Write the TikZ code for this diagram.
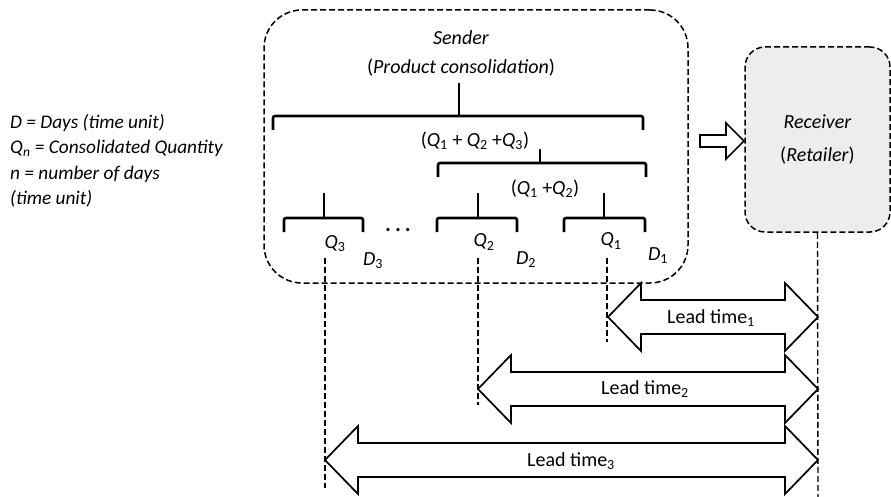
\documentclass[tikz,border=0pt]{standalone}
\usepackage{fontspec}
\setmainfont{Carlito}
\usetikzlibrary{positioning}

\newcommand\Qs[1]{\textit{Q}\textsubscript{#1}}
\newcommand\Ds[1]{\textit{D}\textsubscript{#1}}

\tikzset{
  box/.style={draw, dash pattern=on 6pt off 3pt, line width=1.5pt},
  hollow/.style={draw, line width=1.7pt, fill=white, line join=miter},
  curly/.style={line width=2.6pt, rounded corners=2pt},
  guide/.style={dash pattern=on 6pt off 3pt, line width=1.4pt},
  lbl/.style={font=\fontsize{20}{24}\selectfont, inner sep=0pt},
}

% brace: x left, x right, x tip, y bar, y tip
\newcommand\qbrace[5]{%
  \draw[curly] (#1,#4+14) -- (#1,#4) -- (#2,#4) -- (#2,#4+14);
  \draw[curly] (#3,#4) -- (#3,#5);}
% lead time arrow: x left, x right, y centre
\newcommand\leadarrow[3]{%
  \draw[hollow] (#1,#3) -- ++(33,-34) -- ++(0,17) -- (#2-33,#3-17) -- ++(0,-17)
    -- (#2,#3) -- ++(-33,34) -- ++(0,-17) -- (#1+33,#3+17) -- ++(0,17) -- cycle;}

\begin{document}
\begin{tikzpicture}[x=1pt, y=-1pt, line join=round]
  \useasboundingbox (0,0) rectangle (891,497);

  % legend
  \node[lbl, anchor=north west, align=left, font=\fontsize{19.3}{25.5}\selectfont\itshape] (legend) at (10,114)
    {D = Days (time unit)\\ Q\textsubscript{n} = Consolidated Quantity\\ n = number of days\\ (time unit)};

  % sender and receiver
  \node[box, rounded corners=38pt, minimum width=424pt, minimum height=273pt] (senderbox) at (476,146.5) {};
  \node[lbl] (sender) at (461,38) {\textit{Sender}};
  \node[lbl] (product) at (461,68) {(\textit{Product consolidation})};
  \node[box, rounded corners=20pt, fill=black!7, minimum width=145pt, minimum height=185pt,
        align=center, font=\fontsize{20}{33}\selectfont] (receiver) at (817.5,139.5)
    {\textit{Receiver}\\ (\textit{Retailer})};

  % hollow arrow to receiver
  \draw[hollow] (700,135) -- (726,135) -- (726,123) -- (744,141) -- (726,159) -- (726,147) -- (700,147) -- cycle;

  % braces
  \qbrace{273}{643}{459}{116}{83}
  \qbrace{438}{646}{540}{163}{149}
  \qbrace{284}{363}{324}{218}{193}
  \qbrace{437}{517}{478}{218}{193}
  \qbrace{564}{645}{604}{218}{193}

  \node[lbl] (qsum3) at (475,141) {(\Qs{1} + \Qs{2} +\Qs{3})};
  \node[lbl] (qsum2) at (545,189) {(\Qs{1} +\Qs{2})};
  \node[lbl, font=\fontsize{22}{22}\selectfont\bfseries] (dots) at (398,230) {.\hspace{4pt}.\hspace{4pt}.};

  \node[lbl] (q3) at (335,244) {\Qs{3}};
  \node[lbl] (d3) at (373,261) {\Ds{3}};
  \node[lbl] (q2) at (484,242) {\Qs{2}};
  \node[lbl] (d2) at (526,260) {\Ds{2}};
  \node[lbl] (q1) at (611,241) {\Qs{1}};
  \node[lbl] (d1) at (658,256) {\Ds{1}};

  % time guides
  \coordinate (t3) at (325,258);  \coordinate (b3) at (325,488);
  \coordinate (t2) at (478,258);  \coordinate (b2) at (478,405);
  \coordinate (t1) at (607,258);  \coordinate (b1) at (607,342);
  \coordinate (br) at (818,497);
  \draw[guide] (t3) -- (b3);
  \draw[guide] (t2) -- (b2);
  \draw[guide] (t1) -- (b1);
  \draw[guide] (receiver.south) -- (br);

  % lead times
  \leadarrow{608}{818}{317}
  \leadarrow{478}{818}{389}
  \leadarrow{325}{818}{460}
  \node[lbl] (lead1) at (711,318) {Lead time\textsubscript{1}};
  \node[lbl] (lead2) at (645,389) {Lead time\textsubscript{2}};
  \node[lbl] (lead3) at (571,461) {Lead time\textsubscript{3}};
\end{tikzpicture}
\end{document}
